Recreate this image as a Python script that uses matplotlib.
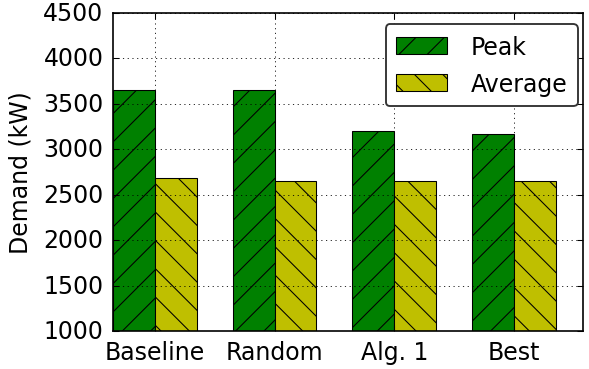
import numpy as np
import matplotlib
matplotlib.use('Agg')
import matplotlib.pyplot as plt

# Data
labels = ['Baseline', 'Random', 'Alg. 1', 'Best']
peak = [3655, 3655, 3205, 3165]
average = [2685, 2655, 2655, 2655]

plt.style.use('classic')
plt.rcParams['font.family'] = 'DejaVu Sans'
plt.rcParams['hatch.linewidth'] = 0.9

DPI = 85
fig = plt.figure(figsize=(589/DPI, 370/DPI), dpi=DPI, facecolor='white')
ax = fig.add_axes([113/589, 1-332/370, 470/589, 318/370])

ind = np.arange(len(labels))
width = 0.35

ax.bar(ind, peak, width, color='g', hatch='/', label='Peak',
       edgecolor='k', linewidth=0.9, align='edge')
ax.bar(ind + width, average, width, color='y', hatch='\\', label='Average',
       edgecolor='k', linewidth=0.9, align='edge')

ax.set_xlim(0, 3.927)
ax.set_ylim(1000, 4500)
ax.set_xticks(ind + width)
ax.set_xticklabels(labels, fontsize=20)
ax.set_yticks(np.arange(1000, 4501, 500))
ax.tick_params(axis='y', labelsize=20, pad=8)
ax.tick_params(axis='x', pad=8)
ax.tick_params(length=5, width=0.9)
ax.set_ylabel('Demand (kW)', fontsize=20, labelpad=9)

ax.grid(True, linestyle=':', color='k', linewidth=0.7)
ax.set_axisbelow(False)
for s in ax.spines.values():
    s.set_linewidth(1.4)

leg = ax.legend(loc='upper right', bbox_to_anchor=(0.9894, 0.9654),
                fontsize=20, handlelength=2.15, handletextpad=1.0,
                labelspacing=0.55, borderpad=0.45, fancybox=True,
                borderaxespad=0.0)
leg.get_frame().set_linewidth(1.6)
leg.get_frame().set_edgecolor('0.2')

fig.savefig('out.png', dpi=DPI, facecolor='white')
